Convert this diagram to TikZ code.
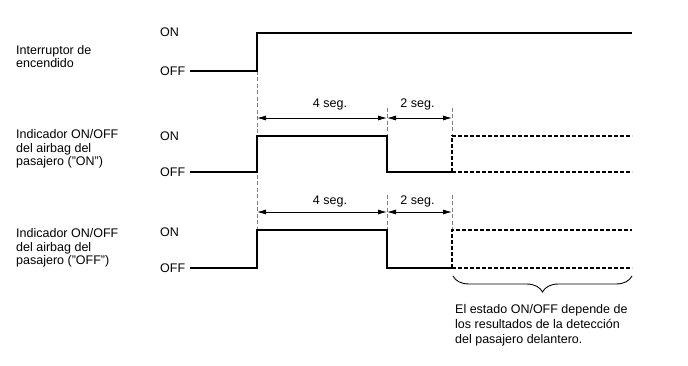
\documentclass[tikz,border=0pt]{standalone}
\usepackage{fontspec}
\setmainfont{Liberation Sans}
\usetikzlibrary{arrows.meta,decorations.pathreplacing}
\begin{document}
\begin{tikzpicture}[x=1pt,y=-1pt,
  lbl/.style={inner sep=0pt,anchor=west,align=left,font=\fontsize{12.5}{13.6}\selectfont},
  sig/.style={line width=1.4pt},
  sigdash/.style={line width=1.2pt,dash pattern=on 4pt off 2pt},
  guide/.style={gray,line width=0.5pt,dash pattern=on 4pt off 2.5pt},
  dim/.style={line width=0.8pt,{Latex[length=9pt,width=5pt]}-{Latex[length=9pt,width=5pt]}},
  brc/.style={line width=0.9pt,decorate,decoration={brace,mirror,amplitude=16pt,aspect=0.5}}]
\useasboundingbox (0,0) rectangle (688,366);
% left labels
\node[lbl] (l1) at (16,56.5) {Interruptor de\\encendido};
\node[lbl] (l2) at (16,149) {Indicador ON/OFF\\del airbag del\\pasajero ("ON")};
\node[lbl] (l3) at (16,248) {Indicador ON/OFF\\del airbag del\\pasajero ("OFF")};
% level labels
\node[lbl] (on1) at (160,32) {ON};
\node[lbl] (off1) at (160,71) {OFF};
\node[lbl] (on2) at (160,136) {ON};
\node[lbl] (off2) at (160,172) {OFF};
\node[lbl] (on3) at (160,232) {ON};
\node[lbl] (off3) at (160,268) {OFF};
% coordinates
\coordinate (a0) at (190,71);
\coordinate (a1) at (257,71);
\coordinate (a2) at (257,33);
\coordinate (a3) at (632,33);
\coordinate (b0) at (190,172);
\coordinate (b1) at (257,172);
\coordinate (b2) at (257,136);
\coordinate (b3) at (387,136);
\coordinate (b4) at (387,172);
\coordinate (b5) at (452,172);
\coordinate (b6) at (452,136);
\coordinate (b7) at (632,136);
\coordinate (b8) at (632,172);
\coordinate (c0) at (190,268);
\coordinate (c1) at (257,268);
\coordinate (c2) at (257,230);
\coordinate (c3) at (387,230);
\coordinate (c4) at (387,268);
\coordinate (c5) at (452,268);
\coordinate (c6) at (452,230);
\coordinate (c7) at (632,230);
\coordinate (c8) at (632,268);
% guides
\coordinate (g1) at (387,108);
\coordinate (g2) at (452,108);
\coordinate (g3) at (387,195);
\coordinate (g4) at (452,195);
\draw[guide] (a1) -- (c2);
\draw[guide] (g1) -- (b3);
\draw[guide] (g2) -- (b6);
\draw[guide] (g3) -- (c3);
\draw[guide] (g4) -- (c6);
% signals
\draw[sig] (a0) -- (a1) -- (a2) -- (a3);
\draw[sig] (b0) -- (b1) -- (b2) -- (b3) -- (b4) -- (b5);
\draw[sigdash] (b5) -- (b6) -- (b7);
\draw[sigdash] (b5) -- (b8);
\draw[sig] (c0) -- (c1) -- (c2) -- (c3) -- (c4) -- (c5);
\draw[sigdash] (c5) -- (c6) -- (c7);
\draw[sigdash] (c5) -- (c8);
% dimension arrows
\coordinate (d1) at (257,118);
\coordinate (d2) at (387,118);
\coordinate (d3) at (452,118);
\coordinate (e1) at (257,212);
\coordinate (e2) at (387,212);
\coordinate (e3) at (452,212);
\draw[dim] (d1) -- (d2);
\draw[dim] (d2) -- (d3);
\draw[dim] (e1) -- (e2);
\draw[dim] (e2) -- (e3);
\node[lbl,anchor=center] (t1) at (330,104.5) {4 seg.};
\node[lbl,anchor=center] (t2) at (417.5,104.5) {2 seg.};
\node[lbl,anchor=center] (t3) at (330,201.5) {4 seg.};
\node[lbl,anchor=center] (t4) at (417.5,201.5) {2 seg.};
% brace
\coordinate (br1) at (453,276);
\coordinate (br2) at (632,276);
\draw[brc] (br1) -- (br2);
\node[lbl,anchor=north west,font=\fontsize{12.5}{15}\selectfont] (note) at (455,304) {El estado ON/OFF depende de\\los resultados de la detección\\del pasajero delantero.};
\end{tikzpicture}
\end{document}
